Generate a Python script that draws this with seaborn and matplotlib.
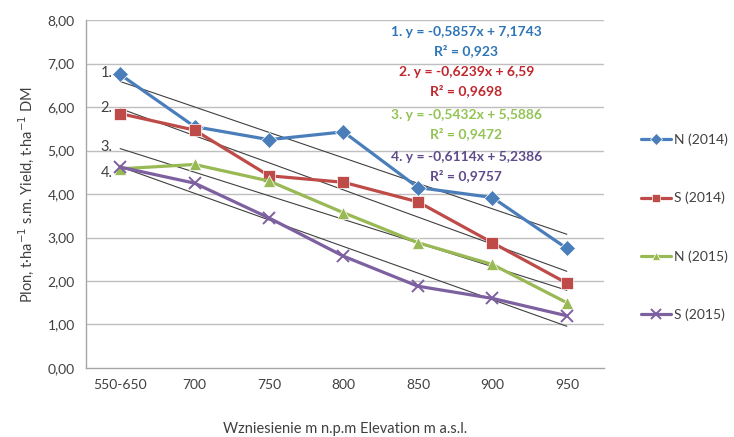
import pandas as pd
import matplotlib.pyplot as plt
from matplotlib.ticker import FuncFormatter
import seaborn as sns

# dane z wykresu
elevation = ['550-650', '700', '750', '800', '850', '900', '950']
n_2014 = [6.75, 5.55, 5.25, 5.43, 4.15, 3.92, 2.75]
s_2014 = [5.85, 5.47, 4.42, 4.27, 3.82, 2.88, 1.95]
n_2015 = [4.58, 4.68, 4.30, 3.57, 2.88, 2.38, 1.50]
s_2015 = [4.62, 4.25, 3.45, 2.57, 1.88, 1.60, 1.20]
series_names = ['N (2014)', 'S (2014)', 'N (2015)', 'S (2015)']

# linie trendu (y = a*x + b, x = 1..7)
trend_slope = [-0.5857, -0.6239, -0.5432, -0.6114]
trend_intercept = [7.1743, 6.59, 5.5886, 5.2386]
trend_r2 = ['0,923', '0,9698', '0,9472', '0,9757']
trend_label_y = [6.78, 5.98, 5.08, 4.48]

colors = ['#4A7EBB', '#BE4B48', '#98B954', '#7D60A0']
text_colors = ['#2E75B6', '#C0262D', '#92C353', '#5F4B8B']

sns.set_theme(style='white')
plt.rcParams['font.family'] = ['Lato', 'DejaVu Sans']

rows = []
for name, vals in zip(series_names, [n_2014, s_2014, n_2015, s_2015]):
    for i, v in enumerate(vals):
        rows.append({'x': i, 'y': v, 'seria': name})
df = pd.DataFrame(rows)

fig = plt.figure(figsize=(7.34, 4.37), dpi=100)
ax = fig.add_axes([0.117, 0.158, 0.706, 0.796])

for y in range(1, 9):
    ax.axhline(y, color='#BFBFBF', lw=1, zorder=0)

sns.lineplot(data=df, x='x', y='y', hue='seria', style='seria',
             palette=colors, markers=['D', 's', '^', 'X'], dashes=False,
             linewidth=2.3, markersize=8, markeredgewidth=0.5, ax=ax, zorder=3)
# krzyżyk jak w Excelu (cienki x)
for line in ax.lines:
    if line.get_marker() == 'X':
        line.set_marker('x')
        line.set_markeredgecolor(colors[3])
        line.set_markeredgewidth(1.4)
        line.set_markersize(9)

xs = list(range(len(elevation)))
for k in range(4):
    ty = [trend_slope[k] * (i + 1) + trend_intercept[k] for i in xs]
    ax.plot(xs, ty, color='#404040', lw=0.8, zorder=2)
    ax.text(-0.1, trend_label_y[k], f'{k + 1}.', ha='right', va='center',
            fontsize=10.5, color='#404040')

eq_y = [7.72, 6.80, 5.82, 4.85]
for k in range(4):
    a = f'{trend_slope[k]:.4f}'.rstrip('0').replace('.', ',')
    b = f'{trend_intercept[k]:.4f}'.rstrip('0').rstrip(',').replace('.', ',')
    ax.text(4.65, eq_y[k], f'{k + 1}. y = {a}x + {b}', ha='center', va='center',
            fontsize=10, fontweight='bold', color=text_colors[k])
    ax.text(4.65, eq_y[k] - 0.42, f'R² = {trend_r2[k]}', ha='center', va='center',
            fontsize=10, fontweight='bold', color=text_colors[k])

ax.set_xlim(-0.46, 6.5)
ax.set_ylim(0, 8)
ax.set_xticks(xs)
ax.set_xticklabels(elevation)
ax.set_yticks(range(0, 9))
ax.yaxis.set_major_formatter(FuncFormatter(lambda v, p: f'{v:.2f}'.replace('.', ',')))
ax.tick_params(axis='both', labelsize=10, colors='#404040', length=0, pad=8)

for side in ['top', 'right']:
    ax.spines[side].set_visible(False)
for side in ['left', 'bottom']:
    ax.spines[side].set_color('#A6A6A6')
    ax.spines[side].set_linewidth(1)

ax.set_xlabel('Wzniesienie m n.p.m Elevation m a.s.l.', fontsize=10.5,
              color='#404040', labelpad=22)
ax.set_ylabel('Plon, t·ha$^{-1}$ s.m. Yield, t·ha$^{-1}$ DM', fontsize=10.5,
              color='#404040', labelpad=8)

leg = ax.legend(loc='upper left', bbox_to_anchor=(1.06, 0.69), frameon=False,
                fontsize=10, handlelength=2.2, handletextpad=0.2,
                labelspacing=3.3, borderaxespad=0, markerscale=0.75)
for t in leg.get_texts():
    t.set_color('#404040')
for h in leg.legend_handles:
    if h.get_marker() == 'X':
        h.set_marker('x')
        h.set_markeredgecolor(colors[3])
        h.set_markeredgewidth(1.2)

fig.savefig('out.png', dpi=100)
